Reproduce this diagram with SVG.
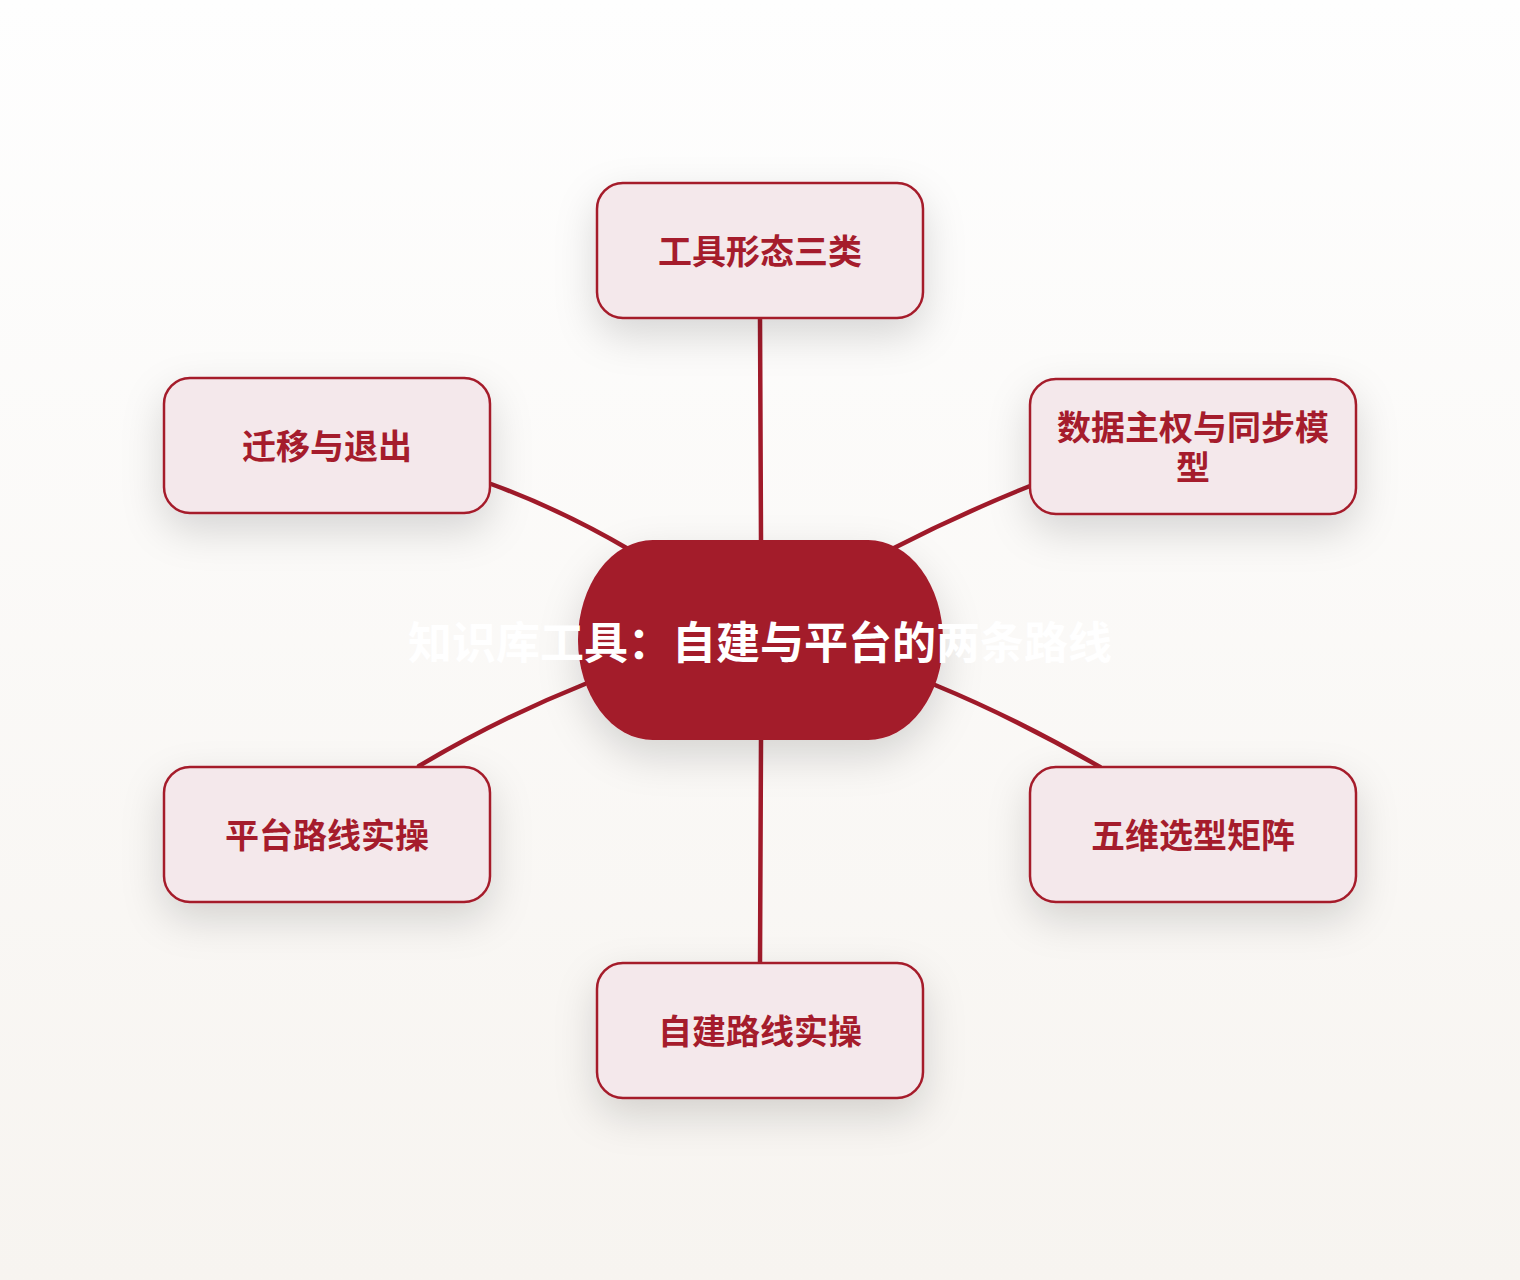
<svg xmlns="http://www.w3.org/2000/svg" width="1520" height="1280" viewBox="0 0 1520 1280">
<style>
.node rect.box{fill:#f4e8eb;stroke:#a51c2c;stroke-width:2.5;filter:url(#sh)}
.node text{font-family:"Noto Sans CJK SC","Noto Sans",sans-serif;font-weight:700;font-size:34px;fill:#a51c2c;text-anchor:middle}
.root text{font-family:"Noto Sans CJK SC","Noto Sans",sans-serif;font-weight:700;font-size:44px;fill:#ffffff;text-anchor:middle}
.edges path{fill:none;stroke:#a01a2a;stroke-width:4.5;stroke-linecap:round}
</style>
<defs>
<linearGradient id="bg" x1="0" y1="0" x2="0" y2="1">
<stop offset="0" stop-color="#fefefe"/>
<stop offset="1" stop-color="#f7f4f0"/>
</linearGradient>
<filter id="sh" x="-30%" y="-40%" width="160%" height="200%">
<feDropShadow dx="0" dy="16" stdDeviation="20" flood-color="#000" flood-opacity="0.15"/>
</filter>
</defs>
<rect width="1520" height="1280" fill="url(#bg)"/>
<g class="edges">
<path d="M760,318 L761,540"/>
<path d="M1030,486 Q960,514 890,550"/>
<path d="M491,484 Q562,510 630,550"/>
<path d="M419,766 Q500,718 585,684"/>
<path d="M935,685 Q1015,718 1100,767"/>
<path d="M761,740 L760,963"/>
</g>
<g id="root" class="root">
<rect x="578" y="540" width="365" height="200" rx="75" ry="100" fill="#a31a2a" filter="url(#sh)"/>
<text x="760" y="659">知识库工具：自建与平台的两条路线</text>
</g>
<g id="n1" class="node">
<rect class="box" x="597" y="183" width="326" height="135" rx="26"/>
<text x="760" y="264">工具形态三类</text>
</g>
<g id="n2" class="node">
<rect class="box" x="1030" y="379" width="326" height="135" rx="26"/>
<text x="1193" y="440"><tspan x="1193" y="440">数据主权与同步模</tspan><tspan x="1193" y="480">型</tspan></text>
</g>
<g id="n3" class="node">
<rect class="box" x="1030" y="767" width="326" height="135" rx="26"/>
<text x="1193" y="848">五维选型矩阵</text>
</g>
<g id="n4" class="node">
<rect class="box" x="597" y="963" width="326" height="135" rx="26"/>
<text x="760" y="1044">自建路线实操</text>
</g>
<g id="n5" class="node">
<rect class="box" x="164" y="767" width="326" height="135" rx="26"/>
<text x="327" y="848">平台路线实操</text>
</g>
<g id="n6" class="node">
<rect class="box" x="164" y="378" width="326" height="135" rx="26"/>
<text x="327" y="459">迁移与退出</text>
</g>
</svg>
